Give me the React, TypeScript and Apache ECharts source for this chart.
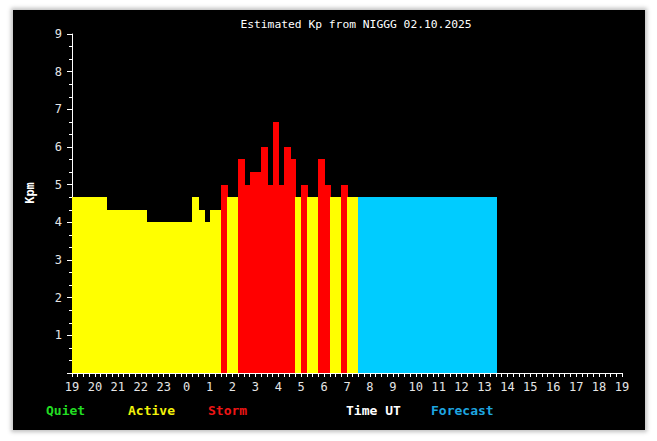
import React, { useEffect, useRef } from "react";
import * as echarts from "echarts";

// Observed estimated Kp, 15-minute slots starting 19:00 UT (01.10)
const observedKp: number[] = [
  4.67, 4.67, 4.67, 4.67, 4.67, 4.67,
  4.33, 4.33, 4.33, 4.33, 4.33, 4.33, 4.33,
  4.0, 4.0, 4.0, 4.0, 4.0, 4.0, 4.0, 4.0,
  4.67, 4.33, 4.0, 4.33, 4.33,
  5.0, 4.67, 4.67,
  5.67, 5.0, 5.33, 5.33, 6.0, 5.0, 6.67, 5.0, 6.0, 5.67,
  4.67, 5.0, 4.67, 4.67, 5.67, 5.0, 4.67, 4.67, 5.0, 4.67, 4.67,
];
// Forecast Kp, 15-minute slots following the observations
const forecastKp: number[] = [
  4.67, 4.67, 4.67, 4.67, 4.67, 4.67, 4.67, 4.67, 4.67, 4.67, 4.67, 4.67,
  4.67, 4.67, 4.67, 4.67, 4.67, 4.67, 4.67, 4.67, 4.67, 4.67, 4.67, 4.67,
];

const startHourUT = 19;
const slotHours = 0.25;
const hourTicks = 24;

const legendItems = [
  { label: "Quiet", color: "#22dd22", x: 46 },
  { label: "Active", color: "#f2f20a", x: 128 },
  { label: "Storm", color: "#ee1515", x: 208 },
  { label: "Time UT", color: "#ffffff", x: 346 },
  { label: "Forecast", color: "#1ea6e0", x: 431 },
];

const QUIET = "#00ff00";
const ACTIVE = "#ffff00";
const STORM = "#ff0000";
const FORECAST = "#00ccff";

function kpColor(kp: number): string {
  if (kp >= 5) return STORM;
  if (kp >= 4) return ACTIVE;
  return QUIET;
}

export default function App() {
  const ref = useRef<HTMLDivElement>(null);

  useEffect(() => {
    document.body.style.margin = "0";
    if (!ref.current) return;
    const chart = echarts.init(ref.current, null, { renderer: "svg" });

    const data: any[] = [];
    observedKp.forEach((kp, i) => {
      data.push({
        value: [i * slotHours, (i + 1) * slotHours, kp],
        itemStyle: { color: kpColor(kp) },
      });
    });
    forecastKp.forEach((kp, j) => {
      const i = observedKp.length + j;
      data.push({
        value: [i * slotHours, (i + 1) * slotHours, kp],
        itemStyle: { color: FORECAST },
      });
    });

    const mono = "DejaVu Sans Mono, monospace";

    chart.setOption({
      animation: false,
      backgroundColor: "transparent",
      grid: { left: 72, right: 35, top: 34, bottom: 68 },
      xAxis: {
        type: "value",
        min: 0,
        max: hourTicks,
        interval: 1,
        splitLine: { show: false },
        axisLine: { show: true, lineStyle: { color: "#ffffff", width: 1 } },
        axisTick: { show: true, length: 4, lineStyle: { color: "#ffffff" } },
        minorTick: { show: true, splitNumber: 4, length: 4, lineStyle: { color: "#ffffff" } },
        axisLabel: {
          color: "#e6e6e6",
          fontFamily: mono,
          fontSize: 12,
          margin: 8,
          formatter: (v: number) => String((startHourUT + Math.round(v)) % 24),
        },
      },
      yAxis: {
        type: "value",
        min: 0,
        max: 9,
        interval: 1,
        splitLine: { show: false },
        axisLine: { show: true, lineStyle: { color: "#ffffff", width: 1 } },
        axisTick: { show: true, length: 5, lineStyle: { color: "#ffffff" } },
        minorTick: { show: true, splitNumber: 3, length: 3, lineStyle: { color: "#ffffff" } },
        axisLabel: {
          color: "#e6e6e6",
          fontFamily: mono,
          fontSize: 12,
          margin: 10,
          formatter: (v: number) => (v === 0 ? "" : String(v)),
        },
      },
      series: [
        {
          type: "custom",
          data,
          encode: { x: [0, 1], y: 2 },
          renderItem: (params: any, api: any) => {
            const x0 = api.value(0);
            const x1 = api.value(1);
            const kp = api.value(2);
            const p0 = api.coord([x0, kp]);
            const p1 = api.coord([x1, 0]);
            const left = Math.round(p0[0]);
            const right = Math.round(p1[0]);
            const top = Math.round(p0[1]);
            const bottom = Math.round(p1[1]);
            const color = api.visual("color");
            return {
              type: "rect",
              shape: { x: left, y: top, width: right - left + 1, height: bottom - top },
              style: { fill: color, stroke: null, lineWidth: 0 },
            };
          },
        },
      ],
      graphic: [
        {
          type: "text",
          x: 356,
          y: 24,
          style: {
            text: "Estimated Kp from NIGGG 02.10.2025",
            fill: "#ffffff",
            font: `11.3px ${mono}`,
            align: "center",
            verticalAlign: "middle",
          },
        },
        {
          type: "text",
          x: 30,
          y: 193,
          rotation: Math.PI / 2,
          style: {
            text: "Kpm",
            fill: "#ffffff",
            font: `bold 12px ${mono}`,
            align: "center",
            verticalAlign: "middle",
          },
        },
        ...legendItems.map((it) => ({
          type: "text",
          x: it.x,
          y: 410,
          style: {
            text: it.label,
            fill: it.color,
            font: `bold 13px ${mono}`,
            align: "left",
            verticalAlign: "middle",
          },
        })),
      ],
    });

    return () => chart.dispose();
  }, []);

  return (
    <div
      style={{
        position: "fixed",
        left: 0,
        top: 0,
        width: 657,
        height: 441,
        background: "#ffffff",
        overflow: "hidden",
      }}
    >
      <div
        style={{
          position: "absolute",
          left: 13,
          top: 10,
          width: 632,
          height: 420,
          background: "#000000",
          boxShadow: "0 0 4px 2px rgba(0,0,0,0.25)",
        }}
      />
      <div ref={ref} style={{ position: "absolute", left: 0, top: 0, width: 657, height: 441 }} />
    </div>
  );
}
